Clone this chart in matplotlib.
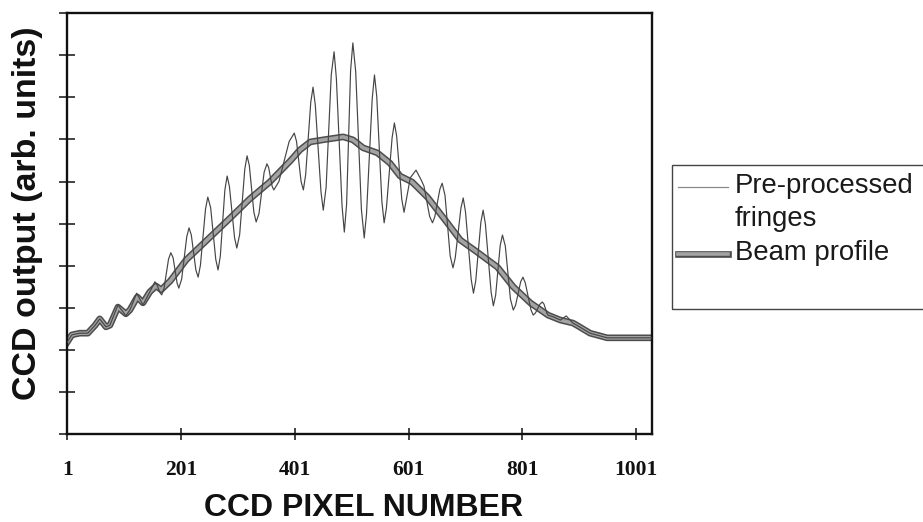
import matplotlib
matplotlib.use("Agg")
import matplotlib.pyplot as plt
import matplotlib.patheffects as pe
from matplotlib.lines import Line2D
from matplotlib.patches import Rectangle

# CCD pixel positions and outputs (arbitrary units) of the raw fringe trace
fringe_pixel = [1, 9, 23, 37, 50, 58, 69, 76, 90, 104, 111, 123, 134, 146,
                155, 158, 164, 167, 171, 179, 183, 187, 194, 197, 202, 211, 215,
                219, 227, 231, 235, 244, 248, 253, 262, 266, 270, 278, 282, 286,
                295, 299, 304, 313, 317, 321, 329, 333, 338, 347, 352, 355, 361,
                364, 373, 391, 400, 404, 412, 416, 420, 429, 433, 437, 447, 451,
                456, 465, 470, 474, 484, 488, 492, 499, 503, 508, 518, 523, 527,
                537, 541, 545, 554, 558, 562, 572, 576, 580, 589, 593, 604, 614,
                623, 628, 638, 643, 647, 656, 660, 665, 674, 679, 683, 693, 697,
                701, 711, 715, 719, 728, 732, 736, 746, 750, 754, 762, 766, 771,
                780, 785, 789, 798, 802, 806, 816, 820, 824, 832, 836, 839, 844,
                846, 855, 868, 878, 890, 899, 920, 950, 991, 1028]
fringe_value = [2.19, 2.36, 2.40, 2.40, 2.59, 2.74, 2.55, 2.59, 3.07, 2.81, 2.95, 3.35,
                3.07, 3.38,
                3.62, 3.57, 3.36, 3.31, 3.46, 4.16, 4.31, 4.19, 3.59, 3.47, 3.68,
                4.69, 4.90, 4.73, 3.90, 3.73, 4.01, 5.35, 5.63, 5.38, 4.15, 3.90,
                4.23, 5.80, 6.13, 5.88, 4.67, 4.42, 4.74, 6.29, 6.61, 6.38, 5.27,
                5.04, 5.24, 6.22, 6.42, 6.33, 5.89, 5.80, 6.00, 6.95, 7.15, 6.95,
                6.00, 5.80, 6.16, 7.88, 8.24, 7.81, 5.75, 5.32, 5.87, 8.53, 9.08,
                8.45, 5.42, 4.80, 5.46, 8.63, 9.29, 8.61, 5.34, 4.66, 5.23, 7.96,
                8.53, 8.02, 5.53, 5.02, 5.37, 7.04, 7.39, 7.08, 5.58, 5.27, 6.09,
                6.27, 6.04, 5.89, 5.17, 5.02, 5.16, 5.82, 5.96, 5.67, 4.24, 3.95,
                4.19, 5.37, 5.61, 5.28, 3.68, 3.35, 3.64, 5.03, 5.32, 4.99, 3.38,
                3.05, 3.30, 4.48, 4.73, 4.47, 3.21, 2.95, 3.06, 3.62, 3.73, 3.60,
                2.96, 2.83, 2.88, 3.09, 3.14, 3.09, 2.88,
                2.83, 2.79, 2.71, 2.81, 2.64, 2.57, 2.40, 2.29, 2.29, 2.29]

# Smoothed beam envelope
beam_pixel = [1, 9, 23, 37, 50, 58, 69, 76, 90, 104, 111, 124, 134, 146, 157, 166,
              182, 210, 252, 287, 322, 357, 393, 410, 428, 451, 486, 503, 521, 546,
              568, 586, 607, 634, 669, 692, 721, 757, 785, 815, 846, 868, 890, 899,
              920, 950, 991, 1028]
beam_value = [2.19, 2.36, 2.40, 2.40, 2.59, 2.74, 2.55, 2.59, 3.02, 2.86, 2.95, 3.26,
              3.12, 3.38, 3.52, 3.43, 3.64, 4.14, 4.68, 5.13, 5.59, 5.99, 6.49, 6.75,
              6.94, 6.99, 7.06, 6.99, 6.80, 6.68, 6.44, 6.13, 5.99, 5.63, 5.02, 4.61,
              4.33, 3.97, 3.50, 3.12, 2.83, 2.71, 2.64, 2.57, 2.40, 2.29, 2.29, 2.29]

x_ticks = [1, 201, 401, 601, 801, 1001]
x_tick_labels = ["1", "201", "401", "601", "801", "1001"]
y_ticks = list(range(0, 11))

W, H = 923, 522
fig = plt.figure(figsize=(W / 100, H / 100), dpi=100)
ax = fig.add_axes([67.3 / W, 1 - 434.3 / H, (651.5 - 67.3) / W, (434.3 - 13) / H])

beam_fx = [pe.Stroke(linewidth=4.8, foreground="#4d4d4d"), pe.Normal()]
fringe_color = "#454545"

ax.plot(beam_pixel, beam_value, color="#a3a3a3", lw=2.6, zorder=2,
        path_effects=beam_fx, solid_joinstyle="round")
ax.plot(fringe_pixel, fringe_value, color=fringe_color, lw=0.85, zorder=3,
        solid_joinstyle="round")

ax.set_xlim(1, 1028)
ax.set_ylim(0, 10)
ax.set_xticks(x_ticks)
ax.set_xticklabels(x_tick_labels, family="Liberation Serif", fontweight="bold",
                   fontsize=15.5)
ax.set_yticks(y_ticks)
ax.set_yticklabels([])
ax.tick_params(axis="x", direction="inout", length=8, width=1.1, pad=14.5, colors="#111111")
ax.tick_params(axis="y", direction="inout", length=11, width=1.1, colors="#111111")
for s in ax.spines.values():
    s.set_linewidth(1.7)
    s.set_color("#111111")

fig.text(28 / W, 1 - 213 / H, "CCD output (arb. units)", rotation=90,
         ha="center", va="center", family="Liberation Sans", fontweight="bold",
         fontsize=24.5, color="#111111")
fig.text(364 / W, 1 - 516 / H, "CCD PIXEL NUMBER", ha="center", va="baseline",
         family="Liberation Sans", fontweight="bold", fontsize=23, color="#111111")

# Legend panel
fig.add_artist(Rectangle((671.5 / W, 1 - 309 / H), 300 / W, 144 / H,
                         transform=fig.transFigure, fill=False, lw=1.0,
                         edgecolor="#444444"))
fig.add_artist(Line2D([678 / W, 728 / W], [1 - 187 / H, 1 - 187 / H],
                      transform=fig.transFigure, color="#8a8a8a", lw=0.9))
fig.add_artist(Line2D([678 / W, 728 / W], [1 - 254 / H, 1 - 254 / H],
                      transform=fig.transFigure, color="#a3a3a3", lw=2.6,
                      path_effects=beam_fx))
leg_kw = dict(family="Liberation Sans", fontsize=19.8, color="#1a1a1a", va="baseline",
              ha="left")
fig.text(735 / W, 1 - 193 / H, "Pre-processed", **leg_kw)
fig.text(735 / W, 1 - 226 / H, "fringes", **leg_kw)
fig.text(735 / W, 1 - 260 / H, "Beam profile", **leg_kw)

fig.savefig("out.png", dpi=100)
